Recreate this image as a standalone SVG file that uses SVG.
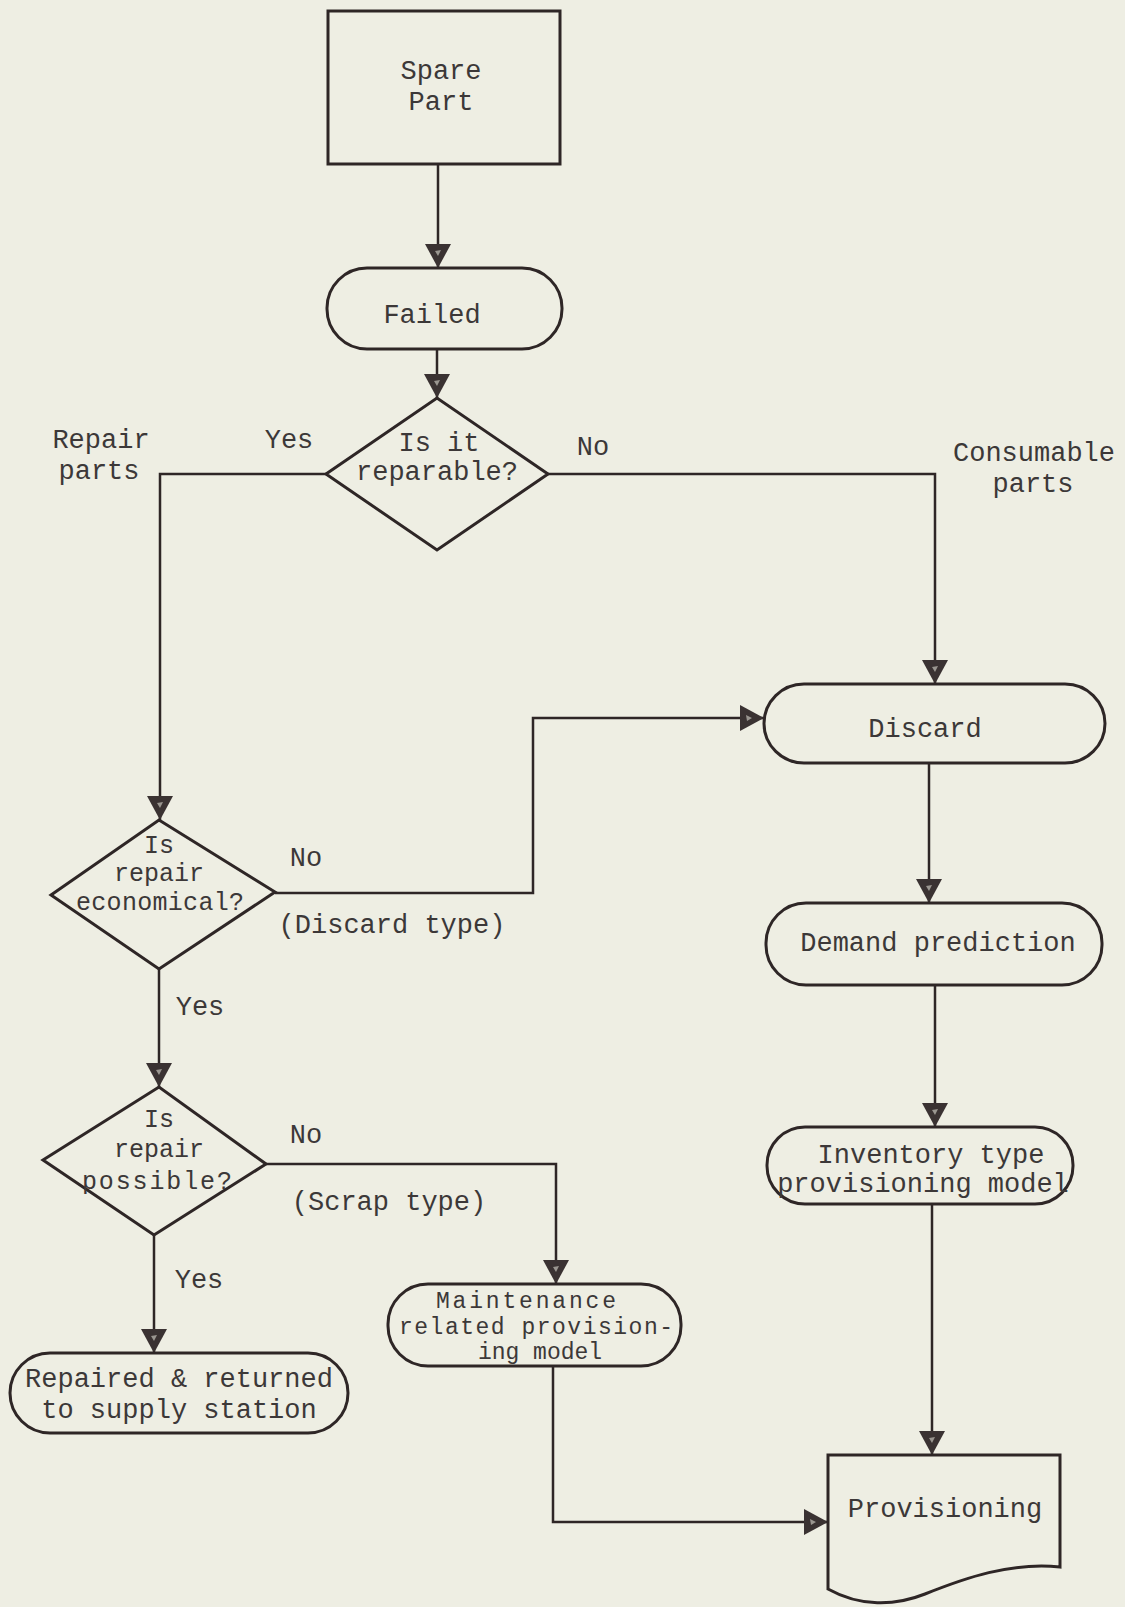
<svg xmlns="http://www.w3.org/2000/svg" width="1125" height="1607" viewBox="0 0 1125 1607">
<style>
.bg{fill:#eeeee3}
.n{fill:none;stroke:#2e2626;stroke-width:3}
.c{fill:none;stroke:#2e2626;stroke-width:2.5}
text{font-family:"Liberation Mono","Courier New",monospace;font-size:27px;fill:#3c3838;text-anchor:middle}
.s{font-size:25px}
.t{font-size:23px}
</style>
<defs>
<marker id="ah" viewBox="0 0 24 26" refX="24" refY="13" markerWidth="24" markerHeight="26" markerUnits="userSpaceOnUse" orient="auto">
<path d="M0,0 L24,13 L0,26 Z" fill="#3a3232"/>
<path d="M6,10 L12,13 L7,16 Z" fill="#9a9690"/>
</marker>
</defs>
<rect class="bg" x="0" y="0" width="1125" height="1607"/>
<g id="connectors">
<path class="c" d="M438,164 V268" marker-end="url(#ah)"/>
<path class="c" d="M437,349 V398" marker-end="url(#ah)"/>
<path class="c" d="M326,474 H160 V820" marker-end="url(#ah)"/>
<path class="c" d="M548,474 H935 V684" marker-end="url(#ah)"/>
<path class="c" d="M275,893 H533 V718 H764" marker-end="url(#ah)"/>
<path class="c" d="M159,969 V1087" marker-end="url(#ah)"/>
<path class="c" d="M266,1164 H556 V1284" marker-end="url(#ah)"/>
<path class="c" d="M154,1235 V1353" marker-end="url(#ah)"/>
<path class="c" d="M929,763 V903" marker-end="url(#ah)"/>
<path class="c" d="M935,985 V1127" marker-end="url(#ah)"/>
<path class="c" d="M932,1204 V1455" marker-end="url(#ah)"/>
<path class="c" d="M553,1366 V1522 H828" marker-end="url(#ah)"/>
</g>
<g id="labels">
<text x="101" y="448">Repair</text>
<text x="99" y="479">parts</text>
<text x="289" y="448">Yes</text>
<text x="593" y="455">No</text>
<text x="1034" y="461">Consumable</text>
<text x="1033" y="492">parts</text>
<text x="306" y="866">No</text>
<text x="392" y="933">(Discard type)</text>
<text x="200" y="1015">Yes</text>
<text x="306" y="1143">No</text>
<text x="389" y="1210">(Scrap type)</text>
<text x="199" y="1288">Yes</text>
</g>
<g id="spare-part">
<rect class="n" x="328" y="11" width="232" height="153"/>
<text x="441" y="79">Spare</text>
<text x="441" y="110">Part</text>
</g>
<g id="failed">
<rect class="n" x="327" y="268" width="235" height="81" rx="40"/>
<text x="432" y="323">Failed</text>
</g>
<g id="is-reparable">
<polygon class="n" points="326,474 437,398 548,474 437,550"/>
<text x="439" y="451">Is it</text>
<text x="437" y="480">reparable?</text>
</g>
<g id="discard">
<rect class="n" x="764" y="684" width="341" height="79" rx="40"/>
<text x="925" y="737">Discard</text>
</g>
<g id="is-economical">
<polygon class="n" points="51,895 159,820 275,892 159,969"/>
<text class="s" x="159" y="853">Is</text>
<text class="s" x="159" y="881">repair</text>
<text class="s" x="160" y="910" textLength="168" lengthAdjust="spacing">economical?</text>
</g>
<g id="is-possible">
<polygon class="n" points="43,1160 159,1087 266,1164 154,1235"/>
<text class="s" x="159" y="1127">Is</text>
<text class="s" x="159" y="1157">repair</text>
<text class="s" x="157" y="1189" textLength="150" lengthAdjust="spacing">possible?</text>
</g>
<g id="demand-prediction">
<rect class="n" x="766" y="903" width="336" height="82" rx="40"/>
<text x="938" y="951">Demand prediction</text>
</g>
<g id="inventory-model">
<rect class="n" x="767" y="1127" width="306" height="77" rx="38"/>
<text x="931" y="1163">Inventory type</text>
<text x="923" y="1192">provisioning model</text>
</g>
<g id="maintenance-model">
<rect class="n" x="388" y="1284" width="293" height="82" rx="40"/>
<text class="t" x="526" y="1308" textLength="180" lengthAdjust="spacing">Maintenance</text>
<text class="t" x="536" y="1334" textLength="274" lengthAdjust="spacing">related provision-</text>
<text class="t" x="540" y="1359">ing model</text>
</g>
<g id="repaired">
<rect class="n" x="10" y="1353" width="338" height="80" rx="40"/>
<text x="179" y="1387">Repaired &amp; returned</text>
<text x="179" y="1418">to supply station</text>
</g>
<g id="provisioning">
<path class="n" d="M828,1455 H1060 V1567 C1010,1562 965,1578 925,1594 C895,1606 860,1607 828,1589 Z"/>
<text x="945" y="1517">Provisioning</text>
</g>
</svg>
